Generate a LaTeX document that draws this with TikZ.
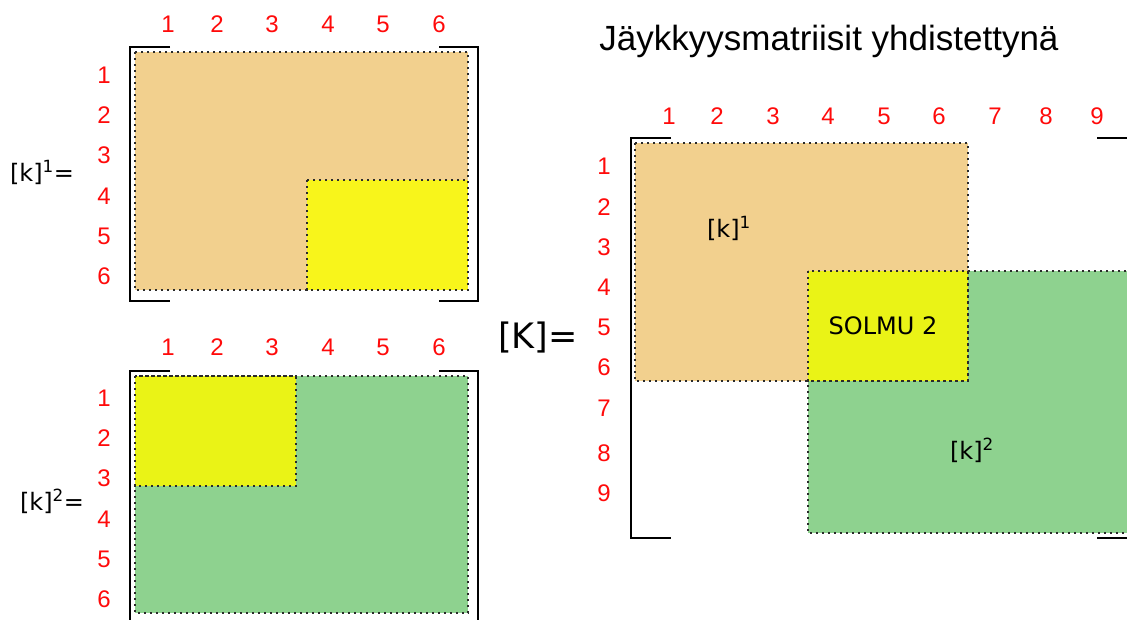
\documentclass[tikz,border=0pt]{standalone}
\usepackage{fontspec}
\setmainfont{DejaVu Sans}
\newfontfamily\arialfont{Liberation Sans}
\definecolor{idxred}{HTML}{FF0A0A}
\definecolor{orangefill}{HTML}{F2D08E}
\definecolor{greenfill}{HTML}{8ED28F}
\definecolor{yellowA}{HTML}{F8F51B}
\definecolor{yellowB}{HTML}{EAF316}
\definecolor{edgegray}{HTML}{2A2A2A}
\begin{document}
\begin{tikzpicture}[x=1pt,y=-1pt,
  idx/.style={text=idxred,font=\arialfont\fontsize{24}{25}\selectfont,inner sep=0pt},
  lbl/.style={font=\fontsize{24}{26}\selectfont,inner sep=0pt},
  bracket/.style={draw=black,line width=2.2pt},
  blockedge/.style={draw=edgegray,line width=1.9pt,dash pattern=on 2.4pt off 3.6pt},
]
\clip (0,0) rectangle (1127,619);

% ---- element 1 stiffness matrix ----
\fill[orangefill] (135,52) rectangle (468,290);
\fill[yellowA] (307,180) rectangle (468,290);
\draw[blockedge] (135,52) rectangle (468,290);
\draw[blockedge] (307,180) rectangle (468,290);
\draw[bracket] (170,47) -- (130,47) -- (130,301) -- (170,301);
\draw[bracket] (439,47) -- (478,47) -- (478,301) -- (439,301);
\foreach \n/\x in {1/168,2/217,3/272,4/328,5/383,6/439}
  \node[idx] (ca\n) at (\x,24) {\n};
\foreach \n/\y in {1/75,2/115,3/155,4/196,5/236,6/276}
  \node[idx] (ra\n) at (104,\y) {\n};
\node[lbl] (kone) at (42,172) {[k]\textsuperscript{1}=};

% ---- element 2 stiffness matrix ----
\fill[greenfill] (135,376) rectangle (468,613);
\fill[yellowB] (135,376) rectangle (296,486);
\draw[blockedge] (135,376) rectangle (468,613);
\draw[blockedge] (135,376) rectangle (296,486);
\draw[bracket] (170,371) -- (130,371) -- (130,650);
\draw[bracket] (439,371) -- (478,371) -- (478,650);
\foreach \n/\x in {1/168,2/217,3/272,4/328,5/383,6/439}
  \node[idx] (cb\n) at (\x,347) {\n};
\foreach \n/\y in {1/398,2/438,3/478,4/519,5/559,6/599}
  \node[idx] (rb\n) at (104,\y) {\n};
\node[lbl] (ktwo) at (52,501) {[k]\textsuperscript{2}=};

% ---- assembled global matrix ----
\node[font=\arialfont\fontsize{35}{40}\selectfont,inner sep=0pt,anchor=base] (title) at (829,50) {Jäykkyysmatriisit yhdistettynä};
\fill[orangefill] (635,143) rectangle (968,381);
\fill[greenfill] (808,271) rectangle (1170,533);
\fill[yellowB] (808,271) rectangle (968,381);
\draw[blockedge] (635,143) rectangle (968,381);
\draw[blockedge] (808,271) rectangle (1170,533);
\draw[blockedge] (808,271) rectangle (968,381);
\draw[bracket] (671,138) -- (631,138) -- (631,538) -- (671,538);
\draw[bracket] (1097,138) -- (1137,138) -- (1137,538) -- (1097,538);
\foreach \n/\x in {1/669,2/717,3/773,4/828,5/884,6/939,7/995,8/1046,9/1097}
  \node[idx] (cc\n) at (\x,116) {\n};
\foreach \n/\y in {1/166,2/207,3/247,4/287,5/327,6/367,7/408,8/453,9/493}
  \node[idx] (rc\n) at (604,\y) {\n};
\node[font=\fontsize{35}{40}\selectfont,inner sep=0pt] (kglob) at (538,338) {[K]=};
\node[lbl] (kin1) at (729,228) {[k]\textsuperscript{1}};
\node[lbl] (kin2) at (972,450) {[k]\textsuperscript{2}};
\node[lbl] (node2) at (883,326) {SOLMU 2};
\end{tikzpicture}
\end{document}
